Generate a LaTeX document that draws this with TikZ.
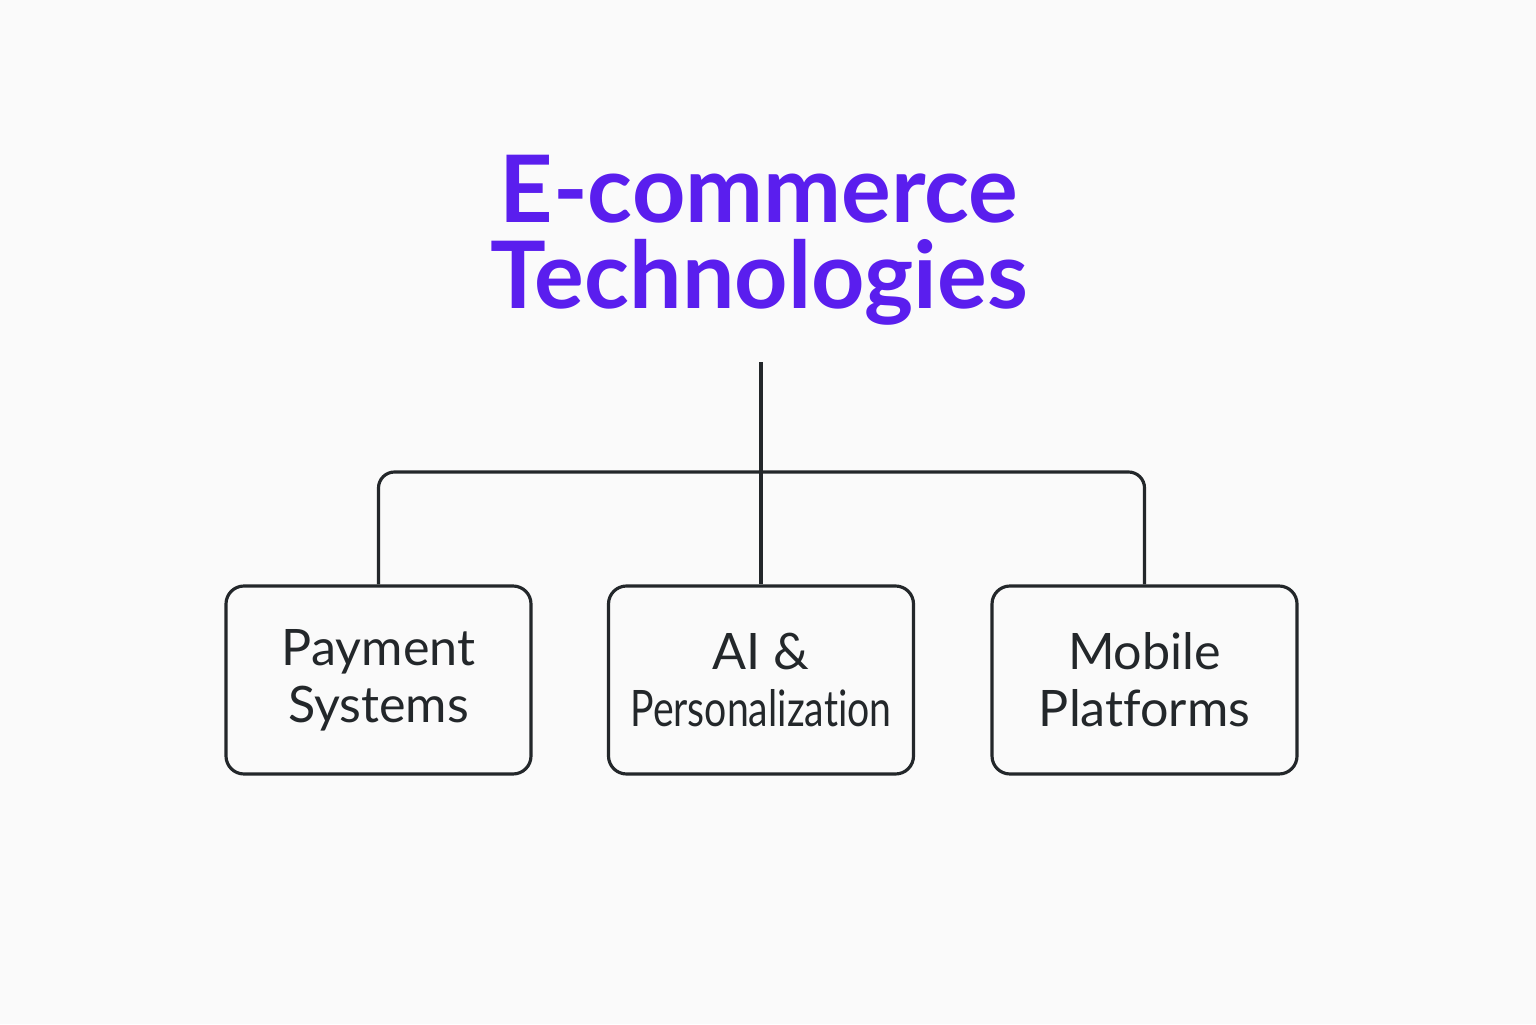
\documentclass[tikz,border=0pt]{standalone}
\usepackage{fontspec}
\setmainfont[Ligatures=NoCommon]{Lato}
\usepackage{xcolor}
\definecolor{titlepurple}{HTML}{5A1EEE}
\definecolor{inkgray}{HTML}{23272A}
\definecolor{paper}{HTML}{FAFAFA}

\begin{document}
\begin{tikzpicture}[
  techbox/.style={draw=inkgray, line width=0.9pt, rounded corners=0.18cm,
    minimum width=3.05cm, minimum height=1.88cm, align=center,
    font=\fontsize{14.3}{16.2}\selectfont, text=inkgray},
  link/.style={draw=inkgray, line width=0.9pt}
]
\fill[paper] (0, 0) rectangle (15.36, 10.24);
\useasboundingbox (0, 0) rectangle (15.36, 10.24);

\node[text=titlepurple, align=center, font=\fontsize{26.5}{24.5}\selectfont\bfseries] (title) at (7.59, 7.84) {E-commerce\\Technologies};

\node[techbox] (pay) at (3.785, 3.44) {Payment\\Systems};
\node[techbox] (ai) at (7.61, 3.44) {AI \&\\\scalebox{0.78}[1]{Personalization}};
\node[techbox] (mob) at (11.445, 3.44) {Mobile\\Platforms};

\coordinate (top) at (7.61, 6.62);
\coordinate (bar) at (7.61, 5.52);

\draw[link] (top) -- (ai.north);
\draw[link, rounded corners=0.16cm] (pay.north) |- (bar) -| (mob.north);
\end{tikzpicture}
\end{document}
